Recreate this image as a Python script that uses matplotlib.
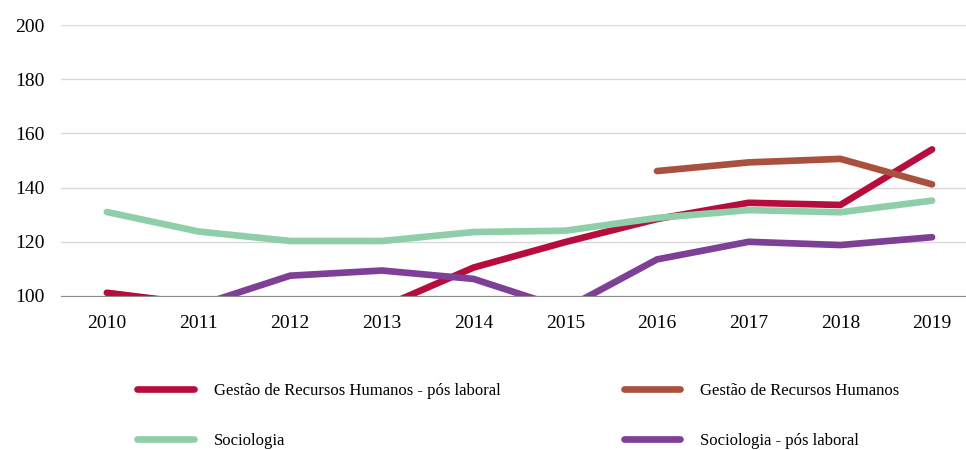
import numpy as np
import matplotlib.pyplot as plt
from matplotlib.lines import Line2D

# data (values below 100 are estimated, they are clipped)
years = ['2010', '2011', '2012', '2013', '2014', '2015', '2016', '2017', '2018', '2019']
grh_pos_laboral = [101.2, 97.0, 94.5, 95.8, 110.5, 119.9, 128.4, 134.4, 133.6, 154.1]
grh = [np.nan, np.nan, np.nan, np.nan, np.nan, np.nan, 146.1, 149.3, 150.6, 141.2]
sociologia = [131.0, 123.8, 120.3, 120.3, 123.6, 124.1, 128.8, 131.7, 130.9, 135.2]
sociologia_pos_laboral = [95.5, 96.5, 107.5, 109.4, 106.3, 95.3, 113.5, 120.0, 118.8, 121.7]

series = [
    ('Gestão de Recursos Humanos - pós laboral', grh_pos_laboral, '#B80C3C'),
    ('Gestão de Recursos Humanos', grh, '#A9503F'),
    ('Sociologia', sociologia, '#8ECFA9'),
    ('Sociologia - pós laboral', sociologia_pos_laboral, '#7E3F97'),
]

plt.rcParams['font.family'] = ['Liberation Serif', 'DejaVu Serif']

fig = plt.figure(figsize=(9.66, 4.5), dpi=100)
ax = fig.add_axes([61 / 966, 1 - 296 / 450, 1 - 61 / 966, 271 / 450])

x = np.arange(len(years))
for name, vals, col in series:
    ax.plot(x, vals, color=col, lw=4.8, solid_capstyle='round',
            solid_joinstyle='round', label=name)

ax.set_ylim(100, 200)
ax.set_xlim(-0.5, 9.37)
ax.set_yticks(range(100, 201, 20))
ax.set_xticks(x)
ax.set_xticklabels(years)
ax.grid(axis='y', color='#D9D9D9', lw=1)
ax.set_axisbelow(True)
for s in ['top', 'right', 'left']:
    ax.spines[s].set_visible(False)
ax.spines['bottom'].set_color('#8C8C8C')
ax.tick_params(length=0, labelsize=14, colors='#000000')
ax.tick_params(axis='x', pad=14)
ax.tick_params(axis='y', pad=12)

# legend is filled row by row in the reference
order = [0, 2, 1, 3]
handles = [Line2D([], [], color=series[i][2], lw=4.8, solid_capstyle='round') for i in order]
labels = [series[i][0] for i in order]
fig.legend(handles, labels, ncol=2, loc='upper left',
           bbox_to_anchor=(122 / 966, 1 - 368 / 450), frameon=False,
           fontsize=12, handlelength=3.4, handletextpad=1.2,
           columnspacing=7.4, labelspacing=2.03)

fig.savefig('out.png', dpi=100)
